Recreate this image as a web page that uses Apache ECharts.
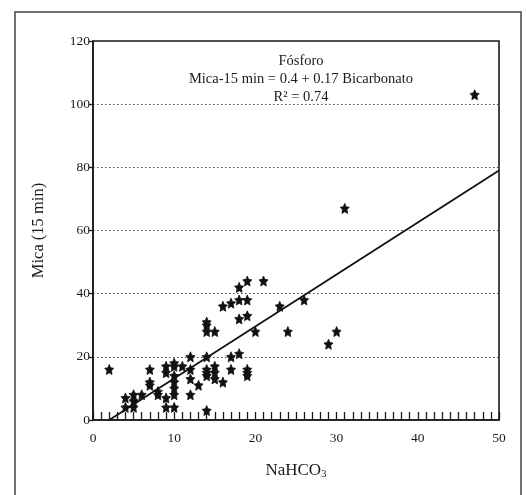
<!DOCTYPE html>
<html>
<head>
<meta charset="utf-8">
<script src="https://cdn.jsdelivr.net/npm/echarts@6/dist/echarts.min.js"></script>
<style>html,body{margin:0;padding:0;background:#fff;}#c{width:526px;height:495px;}</style>
</head>
<body>
<div id="c"></div>
<script>
var nahco3 = [2,4,4,5,5,5,6,7,7,7,8,8,9,9,9,9,10,10,10,10,10,10,10,11,12,12,12,12,13,14,14,14,14,14,14,14,14,15,15,15,15,16,16,17,17,17,18,18,18,18,19,19,19,19,19,19,20,21,23,24,26,29,30,31,47];
var mica   = [16,7,4,8,6,4,8,16,12,11,9,8,17,15,7,4,18,17,14,12,10,8,4,17,20,16,13,8,11,31,30,28,20,16,15,14,3,28,17,15,13,36,12,37,20,16,42,38,32,21,44,38,33,16,15,14,28,44,36,28,38,24,28,67,103];
var fitX = [2, 50];
var fitY = [0, 79];
var xTicks = [0, 10, 20, 30, 40, 50];
var yTicks = [0, 20, 40, 60, 80, 100, 120];
var titleLines = ['Fósforo', 'Mica-15 min = 0.4 + 0.17 Bicarbonato', 'R² = 0.74'];

var pts = nahco3.map(function (x, i) { return [x, mica[i]]; });
var fit = fitX.map(function (x, i) { return [x, fitY[i]]; });
var serif = '"Liberation Serif","DejaVu Serif",serif';
var star = 'path://M0,-10 L2.9,-4 9.5,-3.1 4.7,1.5 5.9,8.1 0,5 -5.9,8.1 -4.7,1.5 -9.5,-3.1 -2.9,-4 Z';

var chart = echarts.init(document.getElementById('c'));
chart.setOption({
  animation: false,
  backgroundColor: '#fff',
  title: {
    text: titleLines.join('\n'),
    left: 296, top: 47, textAlign: 'center',
    textStyle: { fontFamily: serif, fontSize: 14.5, fontWeight: 'normal', color: '#1a1a1a', lineHeight: 18 }
  },
  graphic: [{
    type: 'polyline', silent: true,
    shape: { points: [[15, 500], [15, 12], [521, 12], [521, 500]] },
    style: { stroke: '#444', lineWidth: 1.5, fill: null }
  }],
  grid: { left: 93, right: 27, top: 41, bottom: 75, show: true, borderColor: '#1a1a1a', borderWidth: 1.6, backgroundColor: 'transparent' },
  xAxis: {
    type: 'value', min: xTicks[0], max: xTicks[xTicks.length - 1], interval: 10,
    name: 'NaHCO{sub|3}', nameLocation: 'middle', nameGap: 42,
    nameTextStyle: { fontFamily: serif, fontSize: 17, color: '#1a1a1a',
      rich: { sub: { fontFamily: serif, fontSize: 11, color: '#1a1a1a', verticalAlign: 'bottom', padding: [7, 0, 0, 0] } } },
    axisLine: { lineStyle: { color: '#1a1a1a', width: 1.6 } },
    axisTick: { show: true, inside: true, length: 8, lineStyle: { color: '#1a1a1a', width: 1.3 } },
    minorTick: { show: true, splitNumber: 10, length: 8, lineStyle: { color: '#1a1a1a', width: 1.3 } },
    splitLine: { show: false },
    axisLabel: { fontFamily: serif, fontSize: 13.5, color: '#1a1a1a', margin: 11 }
  },
  yAxis: {
    type: 'value', min: yTicks[0], max: yTicks[yTicks.length - 1], interval: 20,
    name: 'Mica (15 min)', nameLocation: 'middle', nameGap: 46,
    nameTextStyle: { fontFamily: serif, fontSize: 16.5, color: '#1a1a1a' },
    axisLine: { lineStyle: { color: '#1a1a1a', width: 1.6 } },
    axisTick: { show: true, inside: false, length: 4, lineStyle: { color: '#1a1a1a', width: 1.3 } },
    splitLine: { show: true, lineStyle: { color: '#444', type: [1.5, 2.5], width: 1 } },
    axisLabel: { fontFamily: serif, fontSize: 13.5, color: '#1a1a1a', margin: 3 }
  },
  series: [
    {
      type: 'scatter', data: pts, symbol: star, symbolSize: [9, 10],
      itemStyle: { color: '#111', borderColor: '#111', borderWidth: 0.8, opacity: 1 }, z: 3
    },
    {
      type: 'line', data: fit, showSymbol: false, symbol: 'none',
      lineStyle: { color: '#111', width: 1.8 }, z: 4
    }
  ]
});
</script>
</body>
</html>
